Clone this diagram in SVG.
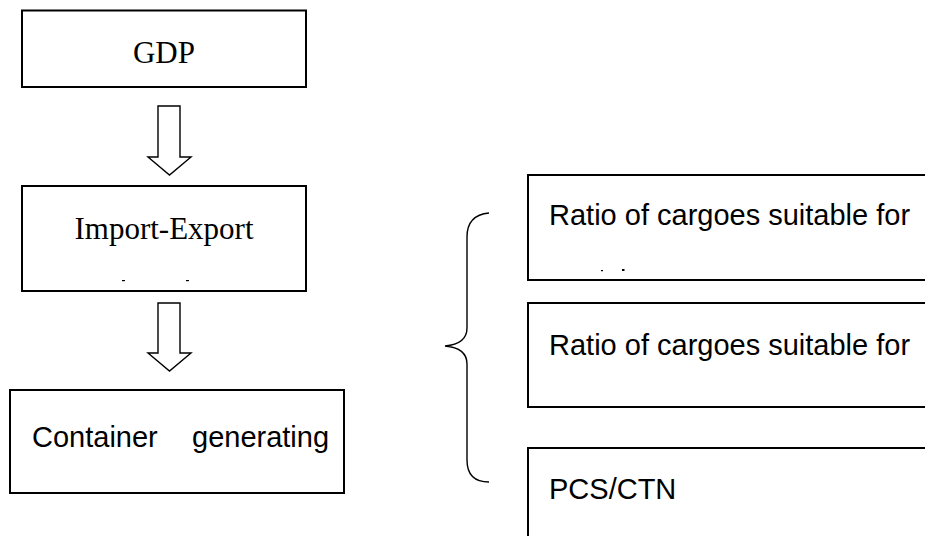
<svg xmlns="http://www.w3.org/2000/svg" width="925" height="536" viewBox="0 0 925 536">
<style>
.box{fill:#fff;stroke:#000;stroke-width:2}
.serif{font-family:"Liberation Serif","Times New Roman",serif;font-size:31px;fill:#000}
.sans{font-family:"Liberation Sans",Arial,sans-serif;font-size:29px;fill:#000}
.conn{fill:none;stroke:#000;stroke-width:1.4}
.mark{fill:#000}
</style>
<rect width="925" height="536" fill="#fff"/>
<g id="gdp">
<rect class="box" x="22" y="10.5" width="284" height="76.5"/>
<text class="serif" x="164" y="63" text-anchor="middle">GDP</text>
</g>
<g id="import-export">
<rect class="box" x="22" y="186" width="284" height="105"/>
<text class="serif" x="164" y="239" text-anchor="middle">Import-Export</text>
<rect class="mark" x="122" y="280" width="3" height="1.2"/>
<rect class="mark" x="186" y="280" width="3" height="1.2"/>
</g>
<g id="container">
<rect class="box" x="10" y="390" width="334" height="103"/>
<text class="sans" y="447" font-size="28"><tspan x="32">Container</tspan><tspan x="192">generating</tspan></text>
</g>
<g id="ratio1">
<rect class="box" x="528" y="175" width="420" height="105"/>
<text class="sans" x="549" y="225">Ratio of cargoes suitable for</text>
<rect class="mark" x="601" y="270" width="2" height="1.2"/>
<rect class="mark" x="622" y="269" width="2.5" height="2"/>
</g>
<g id="ratio2">
<rect class="box" x="528" y="303" width="420" height="104"/>
<text class="sans" x="549" y="355">Ratio of cargoes suitable for</text>
</g>
<g id="pcs">
<rect class="box" x="528" y="448" width="420" height="110"/>
<text class="sans" x="549" y="499">PCS/CTN</text>
</g>
<g id="connectors">
<polygon class="conn" points="158,106 180,106 180,157 191,157 169.5,175 148,157 158,157"/>
<polygon class="conn" points="158,303 180,303 180,353 191,353 169.5,371 148,353 158,353"/>
<path class="conn" d="M489,213 Q467,215 467,237 L467,328 Q467,344 445,346 Q467,348 467,364 L467,460 Q467,482 489,482"/>
</g>
</svg>
